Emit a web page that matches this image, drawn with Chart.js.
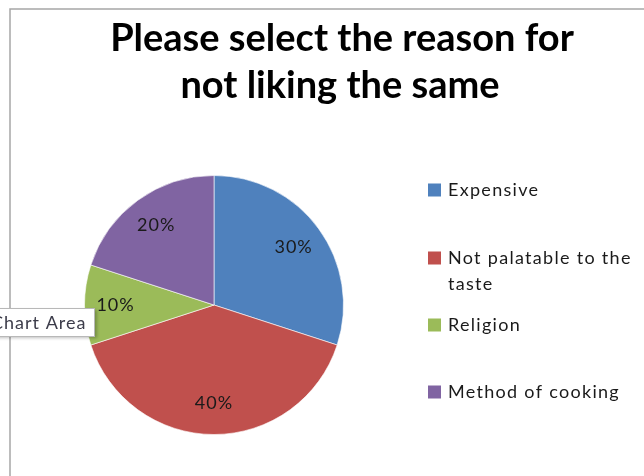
<!DOCTYPE html>
<html>
<head>
<meta charset="utf-8">
<script src="https://cdn.jsdelivr.net/npm/chart.js@4.4.1/dist/chart.umd.min.js"></script>
<style>
  html, body { margin: 0; padding: 0; background: #fff; }
  #wrap { width: 644px; height: 476px; position: relative; }
</style>
</head>
<body>
<div id="wrap"><canvas id="pieChart" width="644" height="476"></canvas></div>
<script>
// ------- DATA -------
const titleLines = ["Please select the reason for", "not liking the same"];
const reasons = ["Expensive", "Not palatable to the taste", "Religion", "Method of cooking"];
const legendLines = [["Expensive"], ["Not palatable to the", "taste"], ["Religion"], ["Method of cooking"]];
const shares = [30, 40, 10, 20];
const sliceColors = ["#4F81BD", "#C0504D", "#9BBB59", "#8064A2"];

const FONT = "Lato, 'Open Sans', sans-serif";

// ------- FRAME + TITLE -------
const framePlugin = {
    id: "frame",
    beforeDraw(chart) {
        let ctx = chart.ctx;
        ctx.save();
        ctx.strokeStyle = "#a6a6a6";
        ctx.lineWidth = 1.5;
        ctx.beginPath();
        ctx.moveTo(10, 480);
        ctx.lineTo(10, 9);
        ctx.lineTo(650, 9);
        ctx.stroke();

        ctx.fillStyle = "#000";
        ctx.font = "bold 38px " + FONT;
        ctx.textAlign = "center";
        ctx.textBaseline = "alphabetic";
        ctx.fillText(titleLines[0], 342, 51);
        ctx.fillText(titleLines[1], 340, 98);
        ctx.restore();
    }
};

// ------- SLICE LABELS, LEGEND, HOVER BOX -------
const overlayPlugin = {
    id: "overlay",
    afterDatasetsDraw(chart) {
        let ctx = chart.ctx;
        let meta = chart.getDatasetMeta(0);
        let total = shares.reduce((a, b) => a + b, 0);

        ctx.save();
        ctx.letterSpacing = "1px";
        ctx.font = "18px " + FONT;
        ctx.fillStyle = "#1a1a1a";
        ctx.textAlign = "center";
        ctx.textBaseline = "middle";
        meta.data.forEach((arc, i) => {
            let p = arc.getProps(["x", "y", "startAngle", "endAngle", "outerRadius"], true);
            let mid = (p.startAngle + p.endAngle) / 2;
            let d = p.outerRadius * 0.76;
            let label = Math.round(shares[i] / total * 100) + "%";
            ctx.fillText(label, p.x + Math.cos(mid) * d, p.y + Math.sin(mid) * d);
        });

        // legend on the right
        const rowY = [190, 258, 325, 392];
        ctx.textAlign = "left";
        ctx.letterSpacing = "1.3px";
        ctx.font = "18px " + FONT;
        legendLines.forEach((lines, i) => {
            ctx.fillStyle = sliceColors[i];
            ctx.fillRect(428, rowY[i] - 6.5, 13, 13);
            ctx.fillStyle = "#1a1a1a";
            lines.forEach((t, j) => ctx.fillText(t, 448, rowY[i] + j * 26));
        });

        // "Chart Area" hover box
        ctx.shadowColor = "rgba(0,0,0,0.25)";
        ctx.shadowBlur = 3;
        ctx.shadowOffsetX = 2;
        ctx.shadowOffsetY = 2;
        ctx.fillStyle = "#ffffff";
        ctx.fillRect(-5, 308, 100, 28);
        ctx.shadowColor = "transparent";
        ctx.strokeStyle = "#b8b8b8";
        ctx.lineWidth = 1;
        ctx.strokeRect(-5.5, 308.5, 100, 28);
        ctx.fillStyle = "#3c3c4a";
        ctx.letterSpacing = "1px";
        ctx.font = "18px " + FONT;
        ctx.textBaseline = "alphabetic";
        ctx.fillText("Chart Area", -9, 329);
        ctx.restore();
    }
};

// ------- PIE -------
new Chart(document.getElementById("pieChart").getContext("2d"), {
    type: "pie",
    data: {
        labels: reasons,
        datasets: [{
            data: shares,
            backgroundColor: sliceColors,
            borderColor: "rgba(255,255,255,0.6)",
            borderWidth: 1
        }]
    },
    options: {
        responsive: false,
        animation: false,
        layout: { padding: { left: 84, right: 300, top: 175, bottom: 41 } },
        plugins: {
            legend: { display: false },
            title: { display: false },
            tooltip: { enabled: false }
        }
    },
    plugins: [framePlugin, overlayPlugin]
});
</script>
</body>
</html>
